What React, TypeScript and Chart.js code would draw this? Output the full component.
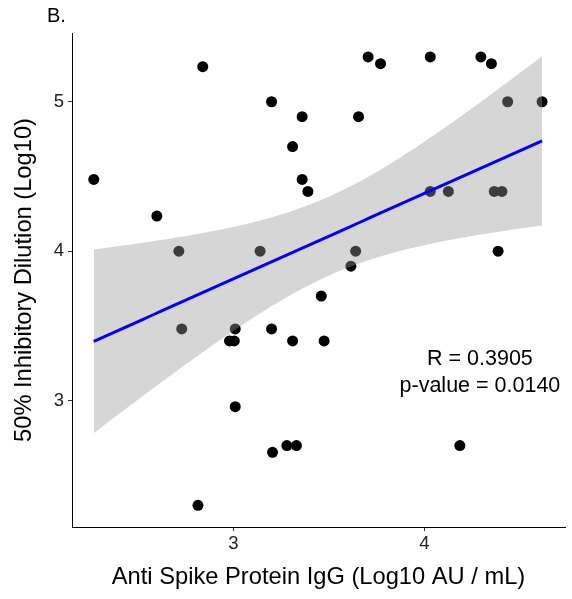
import React, { useEffect, useRef } from "react";
import { Chart, registerables } from "chart.js";

Chart.register(...registerables);

// Anti Spike Protein IgG (Log10 AU / mL)
const igg: number[] = [
  2.27, 2.6, 2.715, 2.73, 2.815, 2.84, 2.98, 3.005, 3.01, 3.01,
  3.14, 3.2, 3.2, 3.205, 3.28, 3.31, 3.31, 3.33, 3.36, 3.36,
  3.39, 3.46, 3.475, 3.615, 3.64, 3.655, 3.705, 3.77, 4.03, 4.03,
  4.125, 4.185, 4.295, 4.35, 4.365, 4.385, 4.405, 4.435, 4.615,
];
// 50% Inhibitory Dilution (Log10)
const id50: number[] = [
  4.48, 4.235, 4.0, 3.48, 2.3, 5.235, 3.4, 3.4, 3.48, 2.96,
  4.0, 5.0, 3.48, 2.655, 2.7, 4.7, 3.4, 2.7, 4.9, 4.48,
  4.4, 3.7, 3.4, 3.9, 4.0, 4.9, 5.3, 5.255, 5.3, 4.4,
  4.4, 2.7, 5.3, 5.255, 4.4, 4.0, 4.4, 5.0, 5.0,
];

const xTicks: number[] = [3, 4];
const yTicks: number[] = [3, 4, 5];
const statLabels: string[] = ["R = 0.3905", "p-value = 0.0140"];
const panelTag = "B.";
const xTitle = "Anti Spike Protein IgG (Log10 AU / mL)";
const yTitle = "50% Inhibitory Dilution (Log10)";

const FONT = "'Liberation Sans', Arial, sans-serif";

function fit() {
  const n = igg.length;
  const mx = igg.reduce((a, b) => a + b, 0) / n;
  const my = id50.reduce((a, b) => a + b, 0) / n;
  let sxx = 0, sxy = 0;
  for (let i = 0; i < n; i++) {
    sxx += (igg[i] - mx) ** 2;
    sxy += (igg[i] - mx) * (id50[i] - my);
  }
  const b = sxy / sxx;
  const a = my - b * mx;
  let sse = 0;
  for (let i = 0; i < n; i++) sse += (id50[i] - (a + b * igg[i])) ** 2;
  const s = Math.sqrt(sse / (n - 2));
  const t = 2.026; // t(0.975, df = 37)
  const xmin = Math.min(...igg), xmax = Math.max(...igg);
  const line: { x: number; y: number }[] = [];
  const lo: { x: number; y: number }[] = [];
  const hi: { x: number; y: number }[] = [];
  const steps = 80;
  for (let k = 0; k <= steps; k++) {
    const x = xmin + ((xmax - xmin) * k) / steps;
    const yh = a + b * x;
    const se = s * Math.sqrt(1 / n + (x - mx) ** 2 / sxx);
    line.push({ x, y: yh });
    lo.push({ x, y: yh - t * se });
    hi.push({ x, y: yh + t * se });
  }
  return { line, lo, hi };
}

const textPlugin = {
  id: "texts",
  afterDraw(chart: any) {
    const ctx = chart.ctx;
    ctx.save();
    ctx.fillStyle = "#000";
    ctx.textBaseline = "alphabetic";
    ctx.textAlign = "left";
    ctx.font = `20px ${FONT}`;
    ctx.fillText(panelTag, 47, 22);
    const xs = chart.scales.x;
    const ys = chart.scales.y;
    ctx.textAlign = "center";
    ctx.font = `21.5px ${FONT}`;
    const cx = xs.getPixelForValue(4.29);
    ctx.fillText(statLabels[0], cx, ys.getPixelForValue(3.239));
    ctx.fillText(statLabels[1], cx, ys.getPixelForValue(3.055));
    ctx.restore();
  },
};

export default function App() {
  const ref = useRef<HTMLCanvasElement | null>(null);
  useEffect(() => {
    document.body.style.margin = "0";
    const { line, lo, hi } = fit();
    const pts = igg.map((x, i) => ({ x, y: id50[i] }));
    const chart = new Chart(ref.current as HTMLCanvasElement, {
      type: "scatter",
      data: {
        datasets: [
          {
            type: "scatter",
            data: pts,
            pointRadius: 5.5,
            pointBorderWidth: 0,
            backgroundColor: "#000",
            borderColor: "#000",
            order: 3,
          } as any,
          {
            type: "line",
            data: lo,
            pointRadius: 0,
            borderWidth: 0,
            borderColor: "rgba(0,0,0,0)",
            fill: false,
            order: 2,
          } as any,
          {
            type: "line",
            data: hi,
            pointRadius: 0,
            borderWidth: 0,
            borderColor: "rgba(0,0,0,0)",
            backgroundColor: "rgba(153,153,153,0.4)",
            fill: "-1",
            order: 2,
          } as any,
          {
            type: "line",
            data: line,
            pointRadius: 0,
            borderWidth: 3,
            borderColor: "#0000FF",
            fill: false,
            order: 1,
          } as any,
        ],
      },
      options: {
        responsive: true,
        maintainAspectRatio: false,
        animation: false,
        layout: { padding: { top: 33, right: 7, bottom: 0, left: 0 } },
        plugins: {
          legend: { display: false },
          tooltip: { enabled: false },
        },
        scales: {
          x: {
            type: "linear",
            min: 2.156,
            max: 4.735,
            afterBuildTicks: (s: any) => {
              s.ticks = xTicks.map((v) => ({ value: v }));
            },
            afterFit: (s: any) => {
              s.height = 72;
            },
            grid: {
              drawOnChartArea: false,
              drawTicks: true,
              tickLength: 4,
              color: "#333",
            },
            border: { display: true, color: "#000", width: 1 },
            ticks: {
              color: "#222",
              padding: 2,
              font: { size: 18.5, family: FONT },
              callback: (v: any) => String(v),
            },
            title: {
              display: true,
              text: xTitle,
              color: "#000",
              font: { size: 23.7, family: FONT },
              padding: { top: 0, bottom: 7 },
            },
          },
          y: {
            type: "linear",
            min: 2.155,
            max: 5.46,
            afterBuildTicks: (s: any) => {
              s.ticks = yTicks.map((v) => ({ value: v }));
            },
            afterFit: (s: any) => {
              s.width = 72;
            },
            grid: {
              drawOnChartArea: false,
              drawTicks: true,
              tickLength: 4,
              color: "#333",
            },
            border: { display: true, color: "#000", width: 1 },
            ticks: {
              color: "#222",
              padding: 4,
              font: { size: 18.5, family: FONT },
              callback: (v: any) => String(v),
            },
            title: {
              display: true,
              text: yTitle,
              color: "#000",
              font: { size: 23.7, family: FONT },
              padding: { top: 10, bottom: 0 },
            },
          },
        },
      },
      plugins: [textPlugin],
    });
    return () => chart.destroy();
  }, []);
  return (
    <div style={{ width: 572, height: 599, position: "relative" }}>
      <canvas ref={ref} />
    </div>
  );
}
